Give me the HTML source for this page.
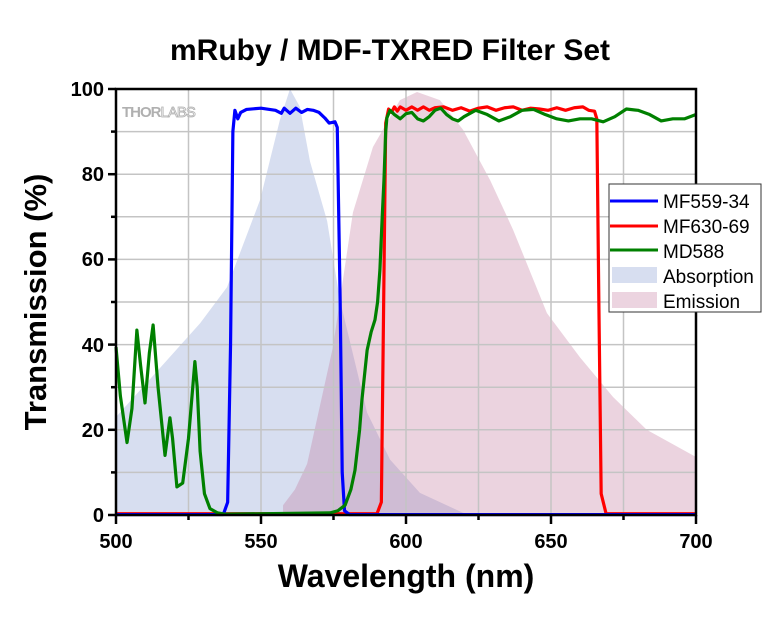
<!DOCTYPE html>
<html><head><meta charset="utf-8"><style>
html,body{margin:0;padding:0;background:#fff;}
svg{display:block;font-family:"Liberation Sans",Arial,sans-serif;}
</style></head><body>
<svg id="s" width="780" height="630" viewBox="0 0 780 630" xmlns="http://www.w3.org/2000/svg">
<rect width="780" height="630" fill="#fff"/>
<text x="390" y="60" text-anchor="middle" font-size="30" font-weight="bold">mRuby / MDF-TXRED Filter Set</text>
<polygon id="abs" fill="#d7def0" data-p="0,0 0,23 29,45 38.3,53.5 49.7,74 56.5,92.7 60,100 63.4,95.8 66.9,83 72.8,69 77.2,50.5 86.6,24 94.5,13 104.8,5.2 119.7,0.5 130,0"/>
<polygon id="emi" fill="rgb(190,110,150)" fill-opacity="0.3" data-p="57.6,0 57.6,2.3 61.7,6 65.9,12 74.8,39.4 81.7,71 88.6,86.4 97.9,97.4 103.8,99.3 111.7,97.4 119.7,90.4 129,78.6 136.9,67 148.6,47.4 160,37 171.4,27.7 183,20 200,13.6 200,0"/>
<g stroke="#c4c4c4" stroke-width="1.5">
  <line x1="116" x2="696" y1="131.6" y2="131.6"/><line x1="116" x2="696" y1="174.2" y2="174.2"/>
  <line x1="116" x2="696" y1="216.8" y2="216.8"/><line x1="116" x2="696" y1="259.4" y2="259.4"/>
  <line x1="116" x2="696" y1="302" y2="302"/><line x1="116" x2="696" y1="344.6" y2="344.6"/>
  <line x1="116" x2="696" y1="387.2" y2="387.2"/><line x1="116" x2="696" y1="429.8" y2="429.8"/>
  <line x1="116" x2="696" y1="472.4" y2="472.4"/>
  <line x1="188.5" x2="188.5" y1="89" y2="515"/><line x1="261" x2="261" y1="89" y2="515"/>
  <line x1="333.5" x2="333.5" y1="89" y2="515"/><line x1="406" x2="406" y1="89" y2="515"/>
  <line x1="478.5" x2="478.5" y1="89" y2="515"/><line x1="551" x2="551" y1="89" y2="515"/>
  <line x1="623.5" x2="623.5" y1="89" y2="515"/>
</g>
<text x="122" y="117" font-size="15" font-weight="bold" fill="#b0b0b0" letter-spacing="-1">THOR<tspan fill="#fff" stroke="#b0b0b0" stroke-width="0.8" font-weight="normal">LABS</tspan></text>
<g fill="none" stroke-width="3.2" stroke-linejoin="round">
  <polyline class="ln" stroke="#ff0000" data-p="0,0.3 90,0.3 91.5,3 92.3,50 93,92 94,95.3 95,94.5 96,95.8 97,94.8 98,95.8 100,95 102,95.8 104,95 106,95.8 108,95 110,95.6 113,95.8 116,95 119,95.6 122,94.8 125,95.5 128,95.8 131,95 134,95.6 137,95.8 140,95 143,95.5 146,95.3 149,95 152,95.6 155,95 158,95.6 161,95.8 163,95 165,94.8 165.8,93 166.5,50 167.3,5 169,0.3 200,0.3"/>
  <polyline class="ln" stroke="#0000ff" data-p="0,0.1 37,0.1 38.5,3 39.5,40 40.3,90 41,95 42,93 43,94.5 45,95.2 50,95.5 55,95 57,94.3 58,95.5 60,94.3 62,95.5 64,94.5 66,95.2 68,95 70,94.5 72,93.2 73.5,92 75.5,92.3 76.3,91 77.3,50 78,10 78.8,1 80.5,0.1 200,0.1"/>
  <polyline class="ln" stroke="#008000" data-p="0,39.4 1.5,28 3.8,17 5.5,25 7.2,43.4 8.5,35 10,26.3 11.5,38 12.8,44.6 14.5,30 16.9,14 18.6,22.8 19.5,18 21,6.6 23,7.5 25,18 27.2,36 28,30 29,15 30.5,5 32.4,1.5 35,0.5 37.6,0.2 73.8,0.5 76.5,1 79,2.3 81,6 82.4,10.5 84,20 84.8,27 86.6,38.7 88,43 89.3,45.8 90.2,50 91,57.5 91.8,70 92.4,78.6 93,90 93.4,93.2 94.5,95 96,94 98,93 100,94.2 102,94.5 104,93 106,92.5 108,93.5 110,95 112,95.5 114,94 116,93 118,92.5 120,93.5 124,95 128,94 132,92.5 136,93.5 140,95 144,95.2 148,94 152,93 156,92.5 160,93 164,93 168,92.3 172,93.5 176,95.3 180,95 184,94 188,92.5 192,93 196,93 200,94"/>
</g>
<rect x="116" y="89" width="580" height="426" fill="none" stroke="#000" stroke-width="2.5"/>
<g stroke="#000" stroke-width="2.5">
  <line x1="108" x2="116" y1="515" y2="515"/><line x1="108" x2="116" y1="429.8" y2="429.8"/>
  <line x1="108" x2="116" y1="344.6" y2="344.6"/><line x1="108" x2="116" y1="259.4" y2="259.4"/>
  <line x1="108" x2="116" y1="174.2" y2="174.2"/><line x1="108" x2="116" y1="89" y2="89"/>
  <line x1="111" x2="116" y1="472.4" y2="472.4"/><line x1="111" x2="116" y1="387.2" y2="387.2"/>
  <line x1="111" x2="116" y1="302" y2="302"/><line x1="111" x2="116" y1="216.8" y2="216.8"/>
  <line x1="111" x2="116" y1="131.6" y2="131.6"/>
  <line x1="116" x2="116" y1="515" y2="524"/><line x1="261" x2="261" y1="515" y2="524"/>
  <line x1="406" x2="406" y1="515" y2="524"/><line x1="551" x2="551" y1="515" y2="524"/>
  <line x1="696" x2="696" y1="515" y2="524"/>
  <line x1="188.5" x2="188.5" y1="515" y2="520"/><line x1="333.5" x2="333.5" y1="515" y2="520"/>
  <line x1="478.5" x2="478.5" y1="515" y2="520"/><line x1="623.5" x2="623.5" y1="515" y2="520"/>
</g>
<g font-size="20" font-weight="bold" text-anchor="end">
  <text x="104" y="522">0</text><text x="104" y="437">20</text><text x="104" y="352">40</text>
  <text x="104" y="266">60</text><text x="104" y="181">80</text><text x="104" y="96">100</text>
</g>
<g font-size="20" font-weight="bold" text-anchor="middle">
  <text x="116" y="548">500</text><text x="261" y="548">550</text><text x="406" y="548">600</text>
  <text x="551" y="548">650</text><text x="696" y="548">700</text>
</g>
<text x="406" y="587" text-anchor="middle" font-size="32" font-weight="bold">Wavelength (nm)</text>
<text transform="translate(46,302) rotate(-90)" text-anchor="middle" font-size="31" font-weight="bold">Transmission (%)</text>
<rect x="609" y="184" width="152" height="128" fill="#fff" stroke="#333" stroke-width="1"/>
<line x1="610" x2="658" y1="201" y2="201" stroke="#0000ff" stroke-width="3"/>
<line x1="610" x2="658" y1="226" y2="226" stroke="#ff0000" stroke-width="3"/>
<line x1="610" x2="658" y1="250" y2="250" stroke="#008000" stroke-width="3"/>
<rect x="612" y="267" width="45" height="16" fill="#d7def0"/>
<rect x="612" y="292" width="45" height="16" fill="#ecd4e0"/>
<g font-size="19">
  <text x="663" y="208">MF559-34</text><text x="663" y="233">MF630-69</text>
  <text x="663" y="258">MD588</text><text x="663" y="283">Absorption</text><text x="663" y="308">Emission</text>
</g>
</svg>
<script>
document.querySelectorAll('[data-p]').forEach(function(el){
  var pts=el.getAttribute('data-p').trim().split(/\s+/).map(function(s){
    var a=s.split(',');return (116+2.9*parseFloat(a[0])).toFixed(2)+','+(515-4.26*parseFloat(a[1])).toFixed(2);
  });
  el.setAttribute('points',pts.join(' '));
});
</script>
</body></html>
